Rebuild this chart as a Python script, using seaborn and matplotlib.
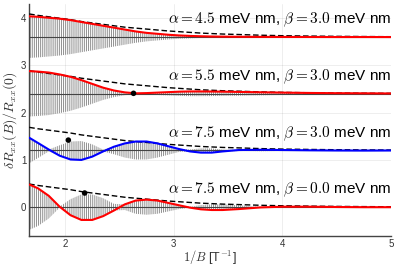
import matplotlib
matplotlib.use("Agg")
import matplotlib.pyplot as plt
import numpy as np
import seaborn as sns

# sample positions in 1/B [T^-1]
INV_B = [1.67, 1.75, 1.85, 1.95, 2.05, 2.15, 2.25, 2.35, 2.45, 2.55, 2.65, 2.75, 2.85,
         2.95, 3.05, 3.15, 3.25, 3.35, 3.45, 3.6, 3.8, 4.0, 4.25, 4.5, 4.75, 5.0]

# dashed decay envelope (offset from each baseline)
ENVELOPE = [0.49, 0.46, 0.43, 0.40, 0.37, 0.33, 0.30, 0.27, 0.24, 0.21, 0.19, 0.17, 0.15,
            0.13, 0.115, 0.10, 0.085, 0.075, 0.065, 0.055, 0.04, 0.03, 0.022, 0.016, 0.012, 0.009]

# beating envelopes (offset from baseline), top to bottom
BEAT_1 = [0.44, 0.43, 0.41, 0.39, 0.36, 0.32, 0.28, 0.24, 0.20, 0.16, 0.12, 0.09, 0.07,
          0.05, 0.035, 0.025, 0.018, 0.013, 0.01, 0.007, 0.005, 0.004, 0.003, 0.002, 0.002, 0.001]
BEAT_2 = [0.48, 0.47, 0.45, 0.41, 0.36, 0.29, 0.21, 0.13, 0.07, 0.03, 0.01, 0.015, 0.025,
          0.035, 0.045, 0.05, 0.05, 0.048, 0.045, 0.04, 0.032, 0.025, 0.018, 0.013, 0.01, 0.007]
BEAT_3 = [0.27, 0.16, 0.02, -0.11, -0.19, -0.20, -0.13, -0.02, 0.08, 0.15, 0.19, 0.19, 0.15,
          0.09, 0.03, -0.02, -0.045, -0.045, -0.02, 0.01, 0.015, 0.01, 0.004, 0.0, -0.002, 0.0]
BEAT_4 = [0.48, 0.40, 0.24, 0.01, -0.17, -0.27, -0.27, -0.19, -0.07, 0.06, 0.14, 0.16, 0.14,
          0.09, 0.04, -0.01, -0.045, -0.06, -0.06, -0.04, -0.005, 0.01, 0.01, 0.004, 0.0, 0.0]

BASELINES = [3.6, 2.4, 1.2, 0.0]
BEATS = [BEAT_1, BEAT_2, BEAT_3, BEAT_4]
COLORS = ["#ff0000", "#ff0000", "#0000ff", "#ff0000"]
LABELS = [r"$\alpha = 4.5$ meV nm, $\beta = 3.0$ meV nm",
          r"$\alpha = 5.5$ meV nm, $\beta = 3.0$ meV nm",
          r"$\alpha = 7.5$ meV nm, $\beta = 3.0$ meV nm",
          r"$\alpha = 7.5$ meV nm, $\beta = 0.0$ meV nm"]

# marked points
DOT_X = [2.63, 2.03, 2.18]
DOT_Y = [2.41, 1.42, 0.30]

sns.set_style("white")
plt.rcParams["font.family"] = ["Liberation Sans", "DejaVu Sans"]
plt.rcParams["mathtext.fontset"] = "cm"
plt.rcParams["hatch.linewidth"] = 0.7
plt.rcParams["hatch.color"] = "#8f8f8f"

fig = plt.figure(figsize=(3.99, 2.66), dpi=100)
ax = fig.add_axes([0.0727, 0.1128, 0.9073, 0.872])

x = np.array(INV_B)
env = np.array(ENVELOPE)
for base, beat, col, lab in zip(BASELINES, BEATS, COLORS, LABELS):
    amp = np.abs(np.array(beat))
    ax.fill_between(x, base - amp, base + amp, facecolor="none", edgecolor="#8f8f8f",
                    hatch="||||||||", linewidth=0, zorder=1)
    ax.axhline(base, color="#444444", lw=0.8, zorder=2)
    sns.lineplot(x=x, y=base + env, ax=ax, color="black", lw=1.0,
                 linestyle=(0, (4, 2)), zorder=3)
    sns.lineplot(x=x, y=base + np.array(beat), ax=ax, color=col, lw=1.5, zorder=4)
    ax.text(5.0, base + 0.36, lab, ha="right", va="center", fontsize=11, color="black")

sns.scatterplot(x=DOT_X, y=DOT_Y, ax=ax, color="black", s=16, edgecolor="none", zorder=5)

ax.set_xlim(1.668, 5.0)
ax.set_ylim(-0.61, 4.3)
ax.set_xticks([2, 3, 4, 5])
ax.set_yticks([0, 1, 2, 3, 4])
ax.grid(True, color="#000000", alpha=0.08, lw=0.6)
for s in ["top", "right"]:
    ax.spines[s].set_visible(False)
for s in ["left", "bottom"]:
    ax.spines[s].set_color("#444444")
    ax.spines[s].set_linewidth(1.0)
ax.tick_params(direction="in", length=2.5, width=0.6, labelsize=7, colors="#333333", pad=2)
ax.set_xlabel(r"$1/B$ [T$^{-1}$]", fontsize=9, color="#333333", labelpad=0)
ax.set_ylabel(r"$\delta R_{xx}(B)/R_{xx}(0)$", fontsize=10, color="#333333", labelpad=1)

fig.savefig("out.png", dpi=100)
